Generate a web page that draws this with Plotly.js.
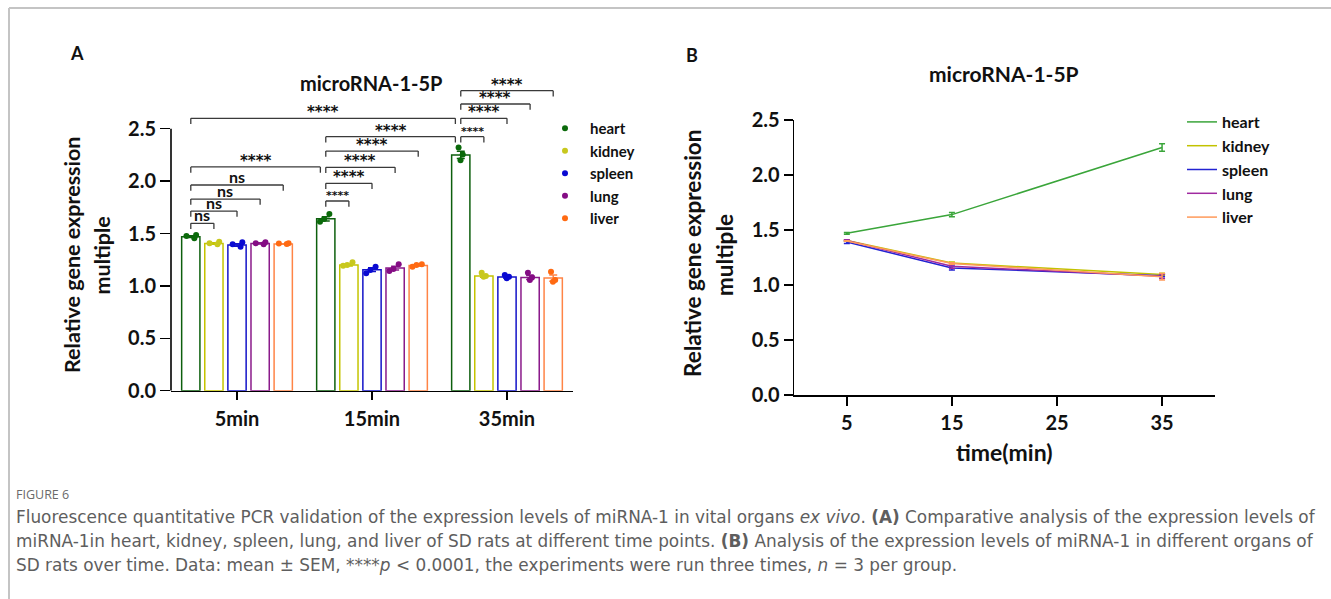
<!DOCTYPE html>
<html><head><meta charset="utf-8">
<script src="https://cdn.plot.ly/plotly-3.0.1.min.js"></script>
<style>html,body{margin:0;padding:0;background:#fff}#chart{width:1331px;height:599px}</style>
</head><body><div id="chart"></div>
<script>
// ---------------- data ----------------
const timeLabels = ['5min', '15min', '35min'];
const timeMinutes = [5, 15, 35];
const organs = ['heart', 'kidney', 'spleen', 'lung', 'liver'];
const yTickVals = [0, 0.5, 1.0, 1.5, 2.0, 2.5];
const yTickText = ['0.0', '0.5', '1.0', '1.5', '2.0', '2.5'];
const bTickVals = [5, 15, 25, 35];

// means at 5, 15, 35 min
const heartMean  = [1.47, 1.64, 2.25];
const kidneyMean = [1.405, 1.20, 1.095];
const spleenMean = [1.39, 1.155, 1.085];
const lungMean   = [1.405, 1.17, 1.08];
const liverMean  = [1.40, 1.195, 1.075];

// SEM at 5, 15, 35 min
const heartSem  = [0.008, 0.02, 0.035];
const kidneySem = [0.007, 0.01, 0.012];
const spleenSem = [0.012, 0.018, 0.01];
const lungSem   = [0.006, 0.018, 0.02];
const liverSem  = [0.003, 0.007, 0.03];

// replicates (n = 3) at 5, 15, 35 min
const heartReps  = [[1.486, 1.476, 1.454], [1.686, 1.638, 1.613], [2.32, 2.255, 2.20]];
const kidneyReps = [[1.422, 1.406, 1.397], [1.225, 1.199, 1.193], [1.126, 1.094, 1.088]];
const spleenReps = [[1.416, 1.397, 1.374], [1.183, 1.152, 1.120], [1.104, 1.088, 1.072]];
const lungReps   = [[1.416, 1.406, 1.397], [1.206, 1.161, 1.142], [1.126, 1.082, 1.056]];
const liverReps  = [[1.406, 1.405, 1.400], [1.206, 1.199, 1.183], [1.136, 1.056, 1.040]];

// significance brackets
const bracketFrom  = [[2,0],[2,0],[2,0],[2,0],[0,0],[1,0],[1,0],[1,0],[1,0],[1,0],[0,0],[0,0],[0,0],[0,0],[0,0]];
const bracketTo    = [[2,4],[2,3],[2,2],[2,1],[2,0],[2,0],[1,4],[1,3],[1,2],[1,1],[1,0],[0,4],[0,3],[0,2],[0,1]];
const bracketLevel = [2.863, 2.736, 2.599, 2.424, 2.599, 2.424, 2.287, 2.132, 1.979, 1.810, 2.135, 1.963, 1.829, 1.714, 1.597];
const bracketLabel = ['****','****','****','****','****','****','****','****','****','****','****','ns','ns','ns','ns'];
const bracketSmall = [false,false,false,true,false,false,false,false,false,true,false,false,false,false,false];

// ---------------- styles ----------------
const means = [heartMean, kidneyMean, spleenMean, lungMean, liverMean];
const sems = [heartSem, kidneySem, spleenSem, lungSem, liverSem];
const reps = [heartReps, kidneyReps, spleenReps, lungReps, liverReps];
const barColors  = ['#0d5f0d', '#c4c400', '#1212c8', '#8a1a8a', '#ff8446'];
const dotColors  = ['#0b6a0b', '#c8c81e', '#0a0ad2', '#840c84', '#ff6a12'];
const lineColors = ['#3aa53a', '#c2c200', '#2323d2', '#a02aa0', '#ff9a5a'];
const W = 1331, H = 599;
const px = v => v / W, py = v => 1 - v / H;
const FONT = 'Lato, "Open Sans", sans-serif';
const STAR = '"DejaVu Sans", sans-serif';
const BARGAP = 0.144, GROUPGAP = 0.21;

const traces = [];
organs.forEach((o, i) => {
  traces.push({
    type: 'bar', name: o, x: timeLabels, y: means[i], xaxis: 'x', yaxis: 'y', showlegend: false,
    marker: {color: 'rgba(255,255,255,0)', line: {color: barColors[i], width: 1.5}},
    error_y: {type: 'data', array: sems[i], visible: true, color: barColors[i], thickness: 1.5, width: 4}
  });
});
organs.forEach((o, i) => {
  const xs = [], ys = [];
  reps[i].forEach((r, t) => r.forEach(v => { xs.push(timeLabels[t]); ys.push(v); }));
  traces.push({
    type: 'box', name: o, x: xs, y: ys, xaxis: 'x', yaxis: 'y', showlegend: false,
    boxpoints: 'all', jitter: 0.75, pointpos: 0, fillcolor: 'rgba(0,0,0,0)', line: {width: 0},
    marker: {color: dotColors[i], size: 6}
  });
});
organs.forEach((o, i) => {
  traces.push({
    type: 'scatter', mode: 'markers', name: o, x: [null], y: [null], xaxis: 'x', yaxis: 'y',
    marker: {color: dotColors[i], size: 6}, legend: 'legend'
  });
});
organs.forEach((o, i) => {
  traces.push({
    type: 'scatter', mode: 'lines', name: o, x: timeMinutes, y: means[i], xaxis: 'x2', yaxis: 'y2',
    line: {color: lineColors[i], width: 1.5},
    error_y: {type: 'data', array: sems[i], visible: true, color: lineColors[i], thickness: 1.5, width: 3},
    legend: 'legend2'
  });
});

const slot = (1 - BARGAP) / organs.length;
const barX = (g, b) => g + (b - 2) * slot;
const shapes = [];
const annotations = [];
bracketLevel.forEach((lv, k) => {
  const [g0, b0] = bracketFrom[k], [g1, b1] = bracketTo[k];
  const x0 = barX(g0, b0);
  const x1 = barX(g1, b1) - ((b1 === 0) ? 0.04 : 0);
  const d = 0.055;
  const ln = {color: '#3a3a3a', width: 1.3};
  shapes.push({type: 'line', xref: 'x', yref: 'y', x0: x0, x1: x0, y0: lv - d, y1: lv, line: ln});
  shapes.push({type: 'line', xref: 'x', yref: 'y', x0: x0, x1: x1, y0: lv, y1: lv, line: ln});
  shapes.push({type: 'line', xref: 'x', yref: 'y', x0: x1, x1: x1, y0: lv - d, y1: lv, line: ln});
  const isNs = bracketLabel[k] === 'ns';
  annotations.push({
    xref: 'x', yref: 'y', x: (x0 + x1) / 2, y: lv, yanchor: 'bottom', xanchor: 'center', showarrow: false,
    text: bracketLabel[k], yshift: isNs ? -3 : (bracketSmall[k] ? -3 : -5),
    font: isNs ? {family: FONT, size: 16, weight: 'bold', color: '#111'}
               : {family: STAR, size: bracketSmall[k] ? 11 : 15, weight: 'bold', color: '#111'}
  });
});
shapes.push({type: 'line', xref: 'x domain', yref: 'y', x0: 0, x1: 0, y0: 0, y1: 2.5, line: {color: '#000', width: 1.6}});
shapes.push({type: 'line', xref: 'paper', yref: 'paper', x0: px(9), x1: 1, y0: py(8), y1: py(8), line: {color: '#c4c4c4', width: 2}});
shapes.push({type: 'line', xref: 'paper', yref: 'paper', x0: px(9), x1: px(9), y0: 0, y1: py(8), line: {color: '#c4c4c4', width: 2}});

function txt(x, y, text, size, opts) {
  return Object.assign({xref: 'paper', yref: 'paper', x: px(x), y: py(y), text: text, showarrow: false,
    xanchor: 'center', yanchor: 'middle', font: {family: FONT, size: size, weight: 'bold', color: '#111'}}, opts || {});
}
annotations.push(txt(77, 53, 'A', 18));
annotations.push(txt(692, 55, 'B', 18));
annotations.push(txt(371, 83, 'microRNA-1-5P', 20));
annotations.push(txt(1004, 74, 'microRNA-1-5P', 21));
annotations.push(txt(72, 255, 'Relative gene expression', 21.5, {textangle: -90}));
annotations.push(txt(101.5, 256, 'multiple', 21.5, {textangle: -90}));
annotations.push(txt(692, 253, 'Relative gene expression', 22.5, {textangle: -90}));
annotations.push(txt(724, 255, 'multiple', 22.5, {textangle: -90}));
annotations.push(txt(1004, 452, 'time(min)', 23));

const CAP = '"DejaVu Sans", "Open Sans", sans-serif';
const capFont = {family: CAP, size: 16.9, color: '#5e5e5e', weight: 'normal'};
annotations.push(txt(14, 494, 'FIGURE 6', 12.5, {xanchor: 'left', font: {family: '"Open Sans", sans-serif', size: 12.5, color: '#6a6a6a', weight: 'normal'}}));
annotations.push(txt(14, 517, 'Fluorescence quantitative PCR validation of the expression levels of miRNA-1 in vital organs <i>ex vivo</i>. <b>(A)</b> Comparative analysis of the expression levels of', 15, {xanchor: 'left', font: capFont}));
annotations.push(txt(14, 541, 'miRNA-1in heart, kidney, spleen, lung, and liver of SD rats at different time points. <b>(B)</b> Analysis of the expression levels of miRNA-1 in different organs of', 15, {xanchor: 'left', font: capFont}));
annotations.push(txt(14, 565, 'SD rats over time. Data: mean ± SEM, ****<i>p</i> &lt; 0.0001, the experiments were run three times, <i>n</i> = 3 per group.', 15, {xanchor: 'left', font: capFont}));

const tickFont = {family: FONT, size: 20, weight: 'bold', color: '#111'};
const layout = {
  width: W, height: H, margin: {l: 0, r: 0, t: 0, b: 0},
  paper_bgcolor: '#fff', plot_bgcolor: 'rgba(0,0,0,0)',
  barmode: 'group', bargap: BARGAP, bargroupgap: GROUPGAP,
  boxmode: 'group', boxgap: BARGAP, boxgroupgap: GROUPGAP,
  showlegend: true,
  xaxis: {domain: [px(171), px(573)], anchor: 'y', type: 'category', categoryorder: 'array', categoryarray: timeLabels,
    range: [-0.489, 2.489], showline: true, linecolor: '#000', linewidth: 1.6, ticks: 'outside', ticklen: 8,
    tickwidth: 1.5, tickcolor: '#000', tickfont: tickFont, showgrid: false, zeroline: false, ticklabelstandoff: 2, fixedrange: true},
  yaxis: {domain: [py(390.7), py(86.8)], anchor: 'x', range: [0, 2.9], tickvals: yTickVals, ticktext: yTickText,
    showline: false, ticks: 'outside', ticklen: 10, tickwidth: 1.5, tickcolor: '#000', tickfont: tickFont,
    showgrid: false, zeroline: false, fixedrange: true},
  xaxis2: {domain: [px(794.3), px(1214.6)], anchor: 'y2', range: [0, 40], tickvals: bTickVals,
    showline: true, linecolor: '#000', linewidth: 1.6, ticks: 'outside', ticklen: 9, tickwidth: 1.5, tickcolor: '#000',
    tickfont: tickFont, showgrid: false, zeroline: false, ticklabelstandoff: 0, fixedrange: true},
  yaxis2: {domain: [py(395), py(120)], anchor: 'x2', range: [0, 2.5], tickvals: yTickVals, ticktext: yTickText,
    showline: true, linecolor: '#000', linewidth: 1.6, ticks: 'outside', ticklen: 9, tickwidth: 1.5, tickcolor: '#000',
    tickfont: tickFont, showgrid: false, zeroline: false, fixedrange: true},
  legend: {x: px(540), y: py(112), xanchor: 'left', yanchor: 'top', bgcolor: 'rgba(0,0,0,0)', itemwidth: 40,
    font: {family: FONT, size: 15, weight: 'bold', color: '#111'}},
  legend2: {x: px(1182), y: py(105), xanchor: 'left', yanchor: 'top', bgcolor: 'rgba(0,0,0,0)', itemwidth: 30,
    font: {family: FONT, size: 16, weight: 'bold', color: '#111'}},
  shapes: shapes, annotations: annotations
};
Plotly.newPlot('chart', traces, layout, {displayModeBar: false, staticPlot: true});
</script></body></html>
